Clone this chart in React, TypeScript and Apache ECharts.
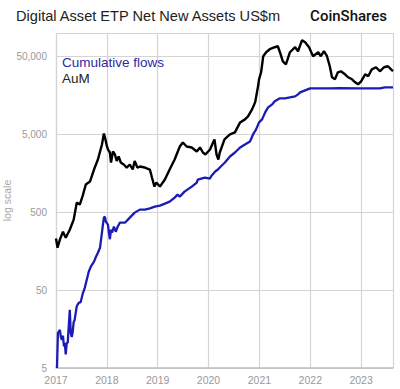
import React, { useEffect, useRef } from "react";
import * as echarts from "echarts";

const aumDates = [
  "2017-01-01","2017-01-12","2017-01-29","2017-02-20","2017-03-12","2017-04-10","2017-05-08","2017-05-30",
  "2017-06-21","2017-07-12","2017-08-03","2017-09-02","2017-10-01","2017-10-29","2017-11-27","2017-12-11",
  "2017-12-22","2018-01-02","2018-01-09","2018-01-23","2018-01-31","2018-02-14","2018-02-28","2018-03-13",
  "2018-03-27","2018-04-11","2018-05-02","2018-05-24","2018-06-15","2018-07-06","2018-07-20","2018-08-08",
  "2018-08-26","2018-10-01","2018-11-06","2018-11-21","2018-12-09","2018-12-23","2019-01-17","2019-02-22",
  "2019-03-28","2019-05-03","2019-06-09","2019-07-01","2019-07-28","2019-09-03","2019-10-09","2019-11-01",
  "2019-11-22","2019-12-10","2020-01-12","2020-02-03","2020-02-13","2020-02-28","2020-03-12","2020-03-22",
  "2020-04-25","2020-06-03","2020-07-09","2020-08-15","2020-09-19","2020-10-11","2020-11-09","2020-12-01",
  "2020-12-22","2020-12-29","2021-01-13","2021-01-28","2021-02-18","2021-03-16","2021-04-21","2021-05-13",
  "2021-05-28","2021-06-18","2021-07-10","2021-08-08","2021-09-14","2021-10-05","2021-11-03","2021-11-25",
  "2021-12-23","2022-01-21","2022-02-27","2022-03-18","2022-04-09","2022-05-01","2022-05-21","2022-06-06",
  "2022-06-27","2022-07-18","2022-08-09","2022-09-07","2022-09-30","2022-10-28","2022-11-19","2022-12-10",
  "2023-01-01","2023-01-30","2023-02-21","2023-03-19","2023-04-18","2023-05-16","2023-06-14","2023-07-13",
  "2023-08-04","2023-08-18"
];
const aumValues = [
  230, 175, 222, 281, 235, 298, 401, 664,
  627, 818, 1133, 1238, 1767, 2377, 3706, 5136,
  4300, 3491, 3196, 2923, 2174, 3011, 2755, 2280,
  2597, 2174, 2049, 1874, 2049, 1767, 2280, 1874,
  1930, 1874, 1767, 1394, 1067, 1202, 1067, 1314,
  1767, 2377, 3491, 3933, 3491, 3391, 3011, 3391,
  2923, 2755, 3196, 3933, 4300, 2755, 2377, 2923,
  4300, 4985, 5291, 7112, 7778, 8500, 10461, 12872,
  20676, 25449, 31310, 50300, 56620, 61900, 65650, 67600,
  56620, 43350, 39668, 56620, 65650, 58350, 80800, 76200,
  65650, 50300, 56620, 50300, 58350, 50300, 37409, 27000,
  25449, 31310, 32250, 29511, 27000, 25449, 23279, 21934,
  23985, 29511, 27800, 34195, 36306, 32250, 36306, 37409,
  34195, 32250
];

const flowDates = [
  "2017-01-08","2017-01-15","2017-01-29","2017-02-05","2017-02-12","2017-02-20","2017-02-27","2017-03-05",
  "2017-03-12","2017-03-19","2017-03-26","2017-04-10","2017-04-17","2017-04-24","2017-05-01","2017-05-08",
  "2017-05-15","2017-05-30","2017-06-13","2017-06-27","2017-07-12","2017-07-26","2017-08-10","2017-08-24",
  "2017-09-08","2017-10-01","2017-10-15","2017-10-29","2017-11-13","2017-11-27","2017-12-04","2017-12-11",
  "2017-12-18","2017-12-25","2018-01-09","2018-01-16","2018-01-23","2018-01-31","2018-02-07","2018-02-14",
  "2018-02-21","2018-03-06","2018-03-20","2018-04-04","2018-05-11","2018-06-15","2018-07-20","2018-08-26",
  "2018-10-01","2018-11-06","2018-12-12","2019-01-17","2019-02-22","2019-03-28","2019-05-03","2019-05-24",
  "2019-06-09","2019-07-13","2019-09-03","2019-10-09","2019-10-16","2019-12-06","2020-01-12","2020-01-20",
  "2020-02-18","2020-03-09","2020-03-22","2020-04-28","2020-06-03","2020-07-09","2020-08-15","2020-09-19",
  "2020-10-25","2020-11-16","2020-12-08","2020-12-29","2021-01-20","2021-02-11","2021-03-04","2021-04-03",
  "2021-04-21","2021-05-28","2021-07-03","2021-08-08","2021-09-14","2021-10-05","2021-10-20","2021-11-25",
  "2021-12-31","2022-03-12","2022-05-21","2022-08-01","2022-12-24","2023-05-16","2023-06-21","2023-08-18"
];
const flowValues = [
  5, 14.1, 15.4, 12.5, 11.5, 13, 9.5, 10.5,
  7.5, 10.5, 10.5, 28, 14.1, 12.5, 14.5, 19.5,
  20.7, 31, 34.3, 35, 45, 53, 68, 86,
  100, 116, 134, 151, 175, 273, 346, 426,
  438, 378, 346, 273, 225, 298, 273, 298,
  326, 281, 326, 367, 367, 426, 494, 540,
  540, 560, 590, 608, 645, 684, 771, 841,
  793, 920, 1067, 1202, 1314, 1394, 1350, 1450,
  1666, 1767, 1874, 2174, 2597, 2923, 3391, 3706,
  4053, 4985, 5780, 7112, 7778, 9572, 11092, 12135,
  13256, 14487, 14487, 14925, 15372, 16313, 17302, 18363,
  19479, 19479, 19479, 19600, 19479, 19479, 20068, 20068
];

const yTicks = [5, 50, 500, 5000, 50000];

const FONT = "'Liberation Sans', Arial, sans-serif";

export default function App() {
  const ref = useRef<HTMLDivElement>(null);
  useEffect(() => {
    if (!ref.current) return;
    const chart = echarts.init(ref.current, undefined, { renderer: "svg" });
    const toTime = (d: string) => new Date(d + "T00:00:00Z").getTime();
    chart.setOption({
      animation: false,
      backgroundColor: "#ffffff",
      textStyle: { fontFamily: FONT },
      title: [
        {
          text: "Digital Asset ETP Net New Assets US$m",
          left: 11,
          top: 3,
          textStyle: { fontSize: 14.6, fontWeight: "normal", color: "#222222", fontFamily: FONT },
        },
        {
          text: "CoinShares",
          right: 8,
          top: 3,
          textStyle: { fontSize: 15, fontWeight: 500, color: "#111111", fontFamily: "Roboto, 'Liberation Sans', sans-serif" },
        },
      ],
      legend: {
        orient: "vertical",
        left: 52,
        top: 50,
        itemWidth: 0,
        itemHeight: 0,
        itemGap: 2,
        icon: "rect",
        selectedMode: false,
        data: [
          { name: "Cumulative flows", textStyle: { color: "#2b2b9e", fontSize: 13.5, fontFamily: FONT } },
          { name: "AuM", textStyle: { color: "#222222", fontSize: 13.5, fontFamily: FONT } },
        ],
      },
      grid: { left: 56, right: 7, top: 33, bottom: 21, containLabel: false, outerBoundsMode: "none" },
      xAxis: {
        type: "time",
        min: toTime("2017-01-01"),
        max: toTime("2023-08-18"),
        minInterval: 365 * 24 * 3600 * 1000,
        splitNumber: 7,
        axisLine: { show: true, lineStyle: { color: "#bdbdbd", width: 1.5 } },
        axisTick: { show: false },
        axisLabel: {
          color: "#999999",
          fontSize: 10.5,
          margin: 6,
          formatter: (v: number) => {
            const d = new Date(v);
            return d.getUTCMonth() === 0 && d.getUTCDate() === 1 ? String(d.getUTCFullYear()) : "";
          },
          hideOverlap: false,
          showMaxLabel: false,
        },
        splitLine: { show: true, lineStyle: { color: "#d4d4d4", width: 1.2 } },
      },
      yAxis: {
        type: "log",
        logBase: 10,
        min: 5,
        max: 100000,
        interval: 1,
        name: "log scale",
        nameLocation: "middle",
        nameGap: 44,
        nameRotate: 90,
        nameMoveOverlap: false,
        nameTextStyle: { color: "#aaaaaa", fontSize: 10.5, fontFamily: FONT },
        axisLine: { show: false },
        axisTick: { show: false },
        axisLabel: {
          color: "#999999",
          fontSize: 10,
          margin: 9,
          formatter: (v: number) => {
            const r = yTicks.find((t) => Math.abs(t - v) / t < 0.01);
            return r ? r.toLocaleString("en-US") : "";
          },
          showMaxLabel: false,
        },
        splitLine: { show: true, lineStyle: { color: "#d4d4d4", width: 1.2 } },
      },
      series: [
        {
          name: "Cumulative flows",
          type: "line",
          showSymbol: false,
          symbol: "none",
          lineStyle: { color: "#1c1cb4", width: 2.3 },
          itemStyle: { color: "#1c1cb4" },
          data: flowDates.map((d, i) => [toTime(d), flowValues[i]]),
          z: 3,
        },
        {
          name: "AuM",
          type: "line",
          showSymbol: false,
          symbol: "none",
          lineStyle: { color: "#000000", width: 2.4 },
          itemStyle: { color: "#000000" },
          data: aumDates.map((d, i) => [toTime(d), aumValues[i]]),
          z: 4,
        },
      ],
    });
    return () => chart.dispose();
  }, []);
  return <div ref={ref} style={{ width: 400, height: 389, position: "absolute", left: 0, top: 0 }} />;
}
